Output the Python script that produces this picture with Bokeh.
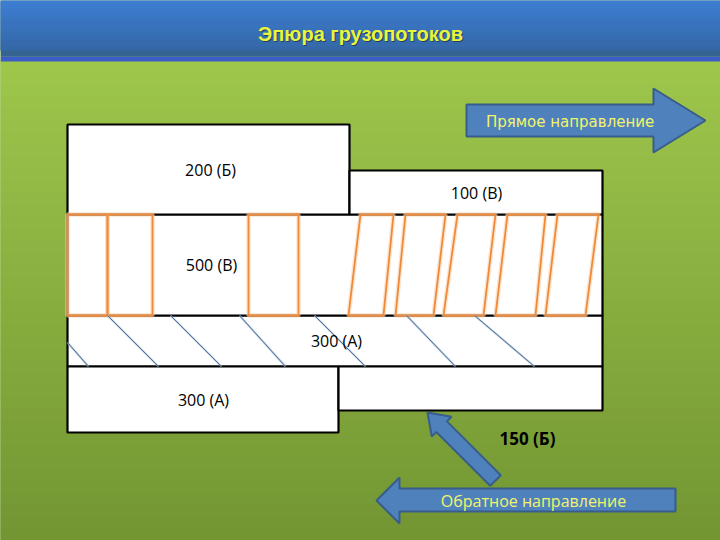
import numpy as np
from bokeh.plotting import figure
from bokeh.models import Range1d
from bokeh.core.properties import value
from bokeh.embed import file_html
from bokeh.resources import INLINE

# ---------------- data ----------------
title_text = "Эпюра грузопотоков"
band_labels = ["300 (А)", "500 (В)", "200 (Б)", "100 (В)", "300 (А)", "150 (Б)"]
band_x0 = [0, 0, 0, 282, 0, 271]          # start along the route
band_x1 = [535, 535, 282, 535, 271, 535]  # end along the route
band_h = [51, 101, 90, 44, 66, 44]        # band thickness (schematic)
band_dir = [1, 1, 1, 1, -1, -1]           # +1 forward, -1 reverse
forward_label = "Прямое  направление"
reverse_label = "Обратное направление"

# ---------------- layout helpers (reference pixel -> data) ----------------
OX, OY = 67, 366
def X(px):
    return np.asarray(px, dtype=float) - OX
def Y(py):
    return OY - np.asarray(py, dtype=float)

def hexmix(c1, c2, t):
    a = [int(c1[i:i + 2], 16) for i in (1, 3, 5)]
    b = [int(c2[i:i + 2], 16) for i in (1, 3, 5)]
    return "#%02x%02x%02x" % tuple(int(round(a[k] + (b[k] - a[k]) * t)) for k in range(3))

W, H = 720, 540
p = figure(width=W, height=H, x_range=Range1d(0 - OX, W - OX),
           y_range=Range1d(OY - H, OY - 0), output_backend="svg",
           toolbar_location=None, min_border=0, min_border_left=0,
           min_border_right=0, min_border_top=0, min_border_bottom=0)
p.xaxis.visible = False
p.yaxis.visible = False
p.grid.visible = False
p.outline_line_color = None
p.background_fill_color = "#8db544"
p.border_fill_color = "#8db544"

# background: green gradient
n = 40
ys = np.linspace(60, 540, n + 1)
gcols = [hexmix("#9dc64b", "#739633", i / (n - 1)) for i in range(n)]
p.quad(left=X(0), right=X(720), top=Y(ys[:-1]), bottom=Y(ys[1:]),
       fill_color=gcols, line_color=gcols, line_width=1)
# header: blue gradient
m = 24
hs = np.linspace(0, 50, m + 1)
bcols = [hexmix("#3d7ed3", "#3568a8", i / (m - 1)) for i in range(m)]
p.quad(left=X(0), right=X(720), top=Y(hs[:-1]), bottom=Y(hs[1:]),
       fill_color=bcols, line_color=bcols, line_width=1)
p.quad(left=X(0), right=X(720), top=Y(50), bottom=Y(56), fill_color="#356490", line_color=None)
p.quad(left=X(0), right=X(720), top=Y(56), bottom=Y(61), fill_color="#3b5ec6", line_color=None)

# title with shadow
p.text(x=[X(361)], y=[Y(34)], text=[title_text], text_align="center", text_baseline="middle",
       text_font=value("Liberation Sans"), text_font_style="bold", text_font_size="20px",
       text_color="#1a2a40", text_alpha=0.7)
p.text(x=[X(360)], y=[Y(33)], text=[title_text], text_align="center", text_baseline="middle",
       text_font=value("Liberation Sans"), text_font_style="bold", text_font_size="20px",
       text_color="#e8f53c")

# ---------------- stacked bands ----------------
bottoms, tops, placed = [], [], []
for x0, x1, h, d in zip(band_x0, band_x1, band_h, band_dir):
    base = 0
    for (qx0, qx1, qtop, qd) in placed:
        if qd == d and qx0 < x1 and qx1 > x0:
            base = max(base, qtop)
    placed.append((x0, x1, base + h, d))
    bottoms.append(d * base)
    tops.append(d * (base + h))

p.quad(left=band_x0, right=band_x1, bottom=bottoms, top=tops,
       fill_color="white", line_color="black", line_width=2.2)

# hatching for 500 (В): orange verticals on segment 1, slanted on segment 2
b5, t5 = bottoms[1], tops[1]
rects = [(67, 107), (107, 152), (248, 298)]
para_top = [(360, 393), (405, 445), (457, 495), (507, 545), (557, 598)]
para_bot = [(348, 383), (395, 433), (443, 483), (495, 535), (545, 585)]
xs_list, ys_list = [], []
for a, b in rects:
    xs_list.append(list(X([a, b, b, a])))
    ys_list.append([t5, t5, b5, b5])
for (ta, tb), (ba, bb) in zip(para_top, para_bot):
    xs_list.append(list(X([ta, tb, bb, ba])))
    ys_list.append([t5, t5, b5, b5])
p.patches(xs=xs_list, ys=ys_list, fill_color=None, line_color="#f9d3ae", line_width=4.5, line_alpha=0.6)
p.patches(xs=xs_list, ys=ys_list, fill_color=None, line_color="#f08a3a", line_width=1.8)

# hatching for upper 300 (А): thin diagonal lines
b3, t3 = bottoms[0], tops[0]
h_top = [107, 170, 239, 314, 406, 474]
h_bot = [158, 221, 285, 365, 455, 534]
hx = [list(X([a, b])) for a, b in zip(h_top, h_bot)] + [list(X([67, 88]))]
hy = [[t3, b3] for _ in h_top] + [[Y(342), b3]]
p.multi_line(xs=hx, ys=hy, line_color="#9fb3c8", line_width=2.2, line_alpha=0.6)
p.multi_line(xs=hx, ys=hy, line_color="#3d6796", line_width=0.9)

# band labels
lab_x = [336, 211, 210, 476, 203, 527]
lab_y = [(bottoms[i] + tops[i]) / 2 for i in range(6)]
lab_y[5] = tops[5] - 28
bold = [False, False, False, False, False, True]
sizes = ["16px"] * 5 + ["17px"]
for i in range(6):
    p.text(x=[X(lab_x[i])], y=[lab_y[i]], text=[band_labels[i]], text_align="center",
           text_baseline="middle", text_font=value("Open Sans"),
           text_font_style="bold" if bold[i] else "normal",
           text_font_size=sizes[i], text_color="black")

# ---------------- arrows ----------------
fwd = ([466, 653, 653, 705, 653, 653, 466], [104, 104, 88, 120, 152, 136, 136])
rev = ([675, 399, 399, 376, 399, 399, 675], [488, 488, 477, 500, 523, 511, 511])

def arrow_poly(tail, tip, bw, hw, hl):
    tail = np.array(tail, float); tip = np.array(tip, float)
    d = tip - tail; L = np.hypot(*d); u = d / L; nrm = np.array([-u[1], u[0]])
    base = tip - u * hl
    pts = [tail + nrm * bw / 2, base + nrm * bw / 2, base + nrm * hw / 2, tip,
           base - nrm * hw / 2, base - nrm * bw / 2, tail - nrm * bw / 2]
    return [q[0] for q in pts], [q[1] for q in pts]

dia = arrow_poly((495, 480), (427, 412), 15, 28, 20)
for ax, ay in (fwd, rev, dia):
    p.patch(x=X(ax), y=Y(ay), fill_color="#4f81bd", line_color="#385d8a", line_width=2)

p.text(x=[X(572)], y=[Y(121)], text=[forward_label], text_align="center", text_baseline="middle",
       text_font=value("DejaVu Sans"), text_font_size="15px", text_color="#f2f56a")
p.text(x=[X(533)], y=[Y(500)], text=[reverse_label], text_align="center", text_baseline="middle",
       text_font=value("Open Sans"), text_font_size="16px", text_color="#f2f56a")

open("out.html", "w").write(file_html(p, INLINE))
